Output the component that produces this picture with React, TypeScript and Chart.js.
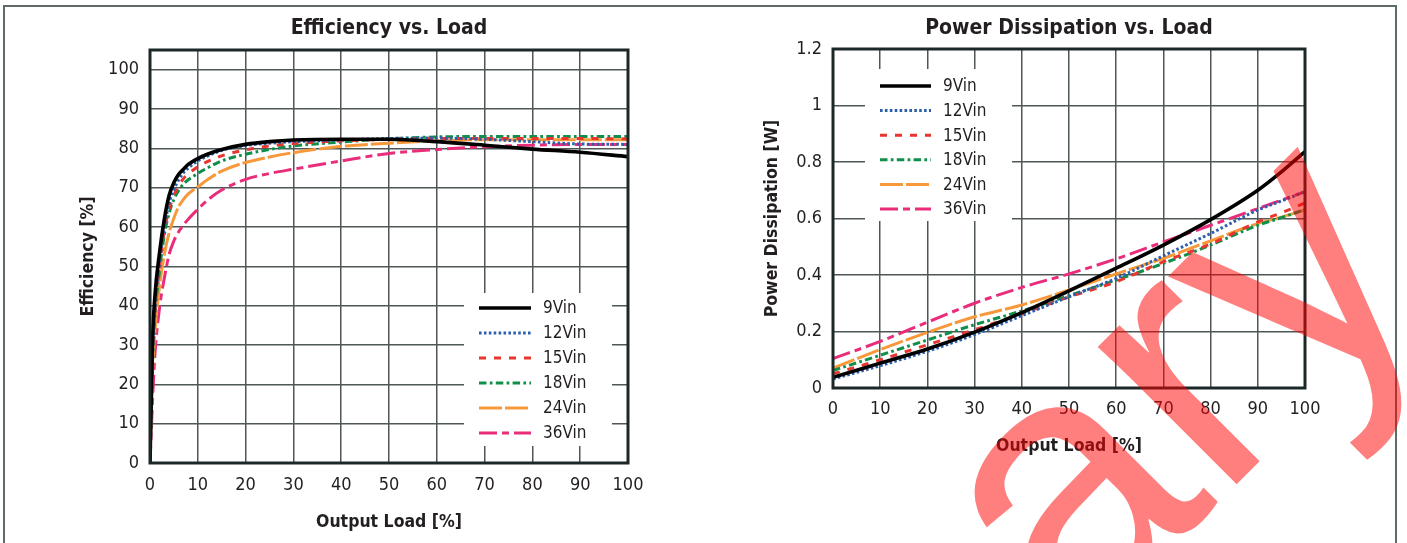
import React, { useEffect, useRef } from "react";
import { Chart, registerables } from "chart.js";

Chart.register(...registerables);

// ---------- data ----------
const seriesLabels = ["9Vin", "12Vin", "15Vin", "18Vin", "24Vin", "36Vin"];

const effLoad = [0, 0.5, 1, 2, 3, 4, 5, 6, 7, 8, 10, 12, 15, 20, 25, 30, 40, 50, 60, 70, 80, 90, 100];
const eff9 = [0, 30, 42, 53.5, 62, 68, 71.3, 73.4, 74.7, 75.9, 77.4, 78.5, 79.7, 81.0, 81.7, 82.1, 82.3, 82.3, 81.7, 80.8, 79.8, 79.0, 77.9];
const eff12 = [0, 27, 39, 51, 60, 66, 69.5, 72, 73.8, 75, 76.8, 78, 79.5, 80.7, 81.3, 81.7, 82.1, 82.5, 82.6, 82.3, 81.7, 81.1, 81.0];
const eff15 = [0, 26, 38, 50, 59, 64.5, 68, 70.5, 72.3, 73.5, 75.3, 76.6, 78.1, 79.6, 80.6, 81.2, 81.9, 82.3, 82.5, 82.5, 82.5, 82.5, 82.4];
const eff18 = [0, 25, 37, 49, 58, 63.5, 67, 69.3, 70.9, 72, 73.6, 75, 76.8, 78.5, 79.7, 80.6, 81.6, 82.4, 82.9, 83.0, 83.0, 83.0, 83.0];
const eff24 = [0, 22, 33, 45, 53, 58.5, 62.3, 65.2, 67, 68.4, 70.2, 72, 74.2, 76.4, 77.8, 78.9, 80.5, 81.3, 81.9, 82.2, 82.2, 82.2, 82.2];
const eff36 = [0, 15, 27, 39.5, 47, 53, 56.5, 58.8, 60.5, 62, 64.5, 66.8, 69.4, 72.1, 73.6, 74.7, 76.8, 78.7, 79.7, 80.4, 80.8, 81.0, 81.0];

const pdLoad = [0, 10, 20, 30, 40, 50, 60, 70, 80, 90, 95, 100];
const pd9 = [0.038, 0.088, 0.138, 0.198, 0.267, 0.344, 0.424, 0.506, 0.596, 0.700, 0.765, 0.837];
const pd12 = [0.032, 0.079, 0.130, 0.189, 0.256, 0.323, 0.388, 0.468, 0.547, 0.630, 0.662, 0.695];
const pd15 = [0.050, 0.100, 0.153, 0.206, 0.263, 0.322, 0.376, 0.447, 0.510, 0.588, 0.620, 0.655];
const pd18 = [0.062, 0.116, 0.170, 0.224, 0.273, 0.327, 0.382, 0.441, 0.506, 0.576, 0.603, 0.632];
const pd24 = [0.070, 0.136, 0.197, 0.252, 0.294, 0.347, 0.404, 0.459, 0.521, 0.582, 0.605, 0.630];
const pd36 = [0.104, 0.165, 0.233, 0.300, 0.356, 0.404, 0.457, 0.517, 0.576, 0.635, 0.665, 0.695];

const effTickValues = [0, 10, 20, 30, 40, 50, 60, 70, 80, 90, 100];

// ---------- styles ----------
const colors = ["#000000", "#2c5fab", "#e8362f", "#0f8f49", "#f7993b", "#e92d7b"];
const dashes: number[][] = [[], [2.6, 2.3], [7, 8], [7.5, 3.3, 2.7, 3.3], [23, 3], [18, 5, 7, 5]];
const widths = [3.6, 3, 3, 3, 3, 3];

const FONT = "'Liberation Sans Narrow', 'DejaVu Sans Condensed', 'Liberation Sans', sans-serif";
const TEXT = "#231f20";
const GRID = "#4e5656";
const FRAME = "#1c2727";

const insideLegend = {
  id: "insideLegend",
  beforeDatasetsDraw(chart: any, _args: any, opts: any) {
    if (!opts || !opts.box) return;
    const { ctx, chartArea } = chart;
    const L = chartArea.left;
    const T = chartArea.top;
    ctx.save();
    ctx.fillStyle = "#ffffff";
    ctx.fillRect(L + opts.box[0], T + opts.box[1], opts.box[2], opts.box[3]);
    chart.data.datasets.forEach((ds: any, i: number) => {
      const y = T + opts.rowY0 + i * opts.rowStep;
      ctx.beginPath();
      ctx.strokeStyle = ds.borderColor;
      ctx.lineWidth = ds.borderWidth;
      ctx.setLineDash(ds.borderDash || []);
      ctx.lineCap = "butt";
      ctx.moveTo(L + opts.sampleX0, y);
      ctx.lineTo(L + opts.sampleX1, y);
      ctx.stroke();
      ctx.setLineDash([]);
      ctx.fillStyle = TEXT;
      ctx.font = `17px ${FONT}`;
      ctx.textBaseline = "middle";
      ctx.textAlign = "left";
      ctx.fillText(ds.label, L + opts.textX, y + 1);
    });
    ctx.restore();
  },
};

const plotFrame = {
  id: "plotFrame",
  afterDatasetsDraw(chart: any) {
    const { ctx, chartArea } = chart;
    ctx.save();
    ctx.strokeStyle = FRAME;
    ctx.lineWidth = 3;
    ctx.setLineDash([]);
    ctx.strokeRect(chartArea.left, chartArea.top, chartArea.right - chartArea.left, chartArea.bottom - chartArea.top);
    ctx.restore();
  },
};

function makeDatasets(xs: number[], series: number[][]) {
  return series.map((vals, i) => ({
    label: seriesLabels[i],
    data: vals.map((v, j) => ({ x: xs[j], y: v })),
    borderColor: colors[i],
    borderWidth: widths[i],
    borderDash: dashes[i],
    borderCapStyle: "butt",
    pointRadius: 0,
    fill: false,
    cubicInterpolationMode: "monotone",
  }));
}

function tickFont() {
  return { family: FONT, size: 18 };
}
function titleFont() {
  return { family: FONT, size: 17.5, weight: "bold" as const };
}
function headFont() {
  return { family: FONT, size: 21, weight: "bold" as const };
}

function EfficiencyChart() {
  const ref = useRef<HTMLCanvasElement | null>(null);
  useEffect(() => {
    if (!ref.current) return;
    const chart = new Chart(ref.current, {
      type: "line",
      data: { datasets: makeDatasets(effLoad, [eff9, eff12, eff15, eff18, eff24, eff36]) as any },
      plugins: [insideLegend, plotFrame],
      options: {
        responsive: false,
        animation: false,
        layout: { padding: { left: 0, right: 72, top: 0, bottom: 0 } },
        plugins: {
          legend: { display: false },
          tooltip: { enabled: false },
          title: {
            display: true,
            text: "Efficiency vs. Load",
            fullSize: false,
            color: TEXT,
            font: headFont(),
            padding: { top: 16, bottom: 8.8 },
          },
          insideLegend: {
            box: [314, 243, 148, 153],
            sampleX0: 329,
            sampleX1: 381,
            textX: 393,
            rowY0: 258,
            rowStep: 25,
          },
        } as any,
        scales: {
          x: {
            type: "linear",
            min: 0,
            max: 100,
            ticks: { stepSize: 10, padding: 12, color: TEXT, font: tickFont() },
            grid: { color: GRID, lineWidth: 1.5, drawTicks: false },
            border: { display: false },
            title: { display: true, text: "Output Load [%]", color: TEXT, font: titleFont(), padding: { top: 0, bottom: 10 } },
            afterFit: (s: any) => {
              s.height = 80;
            },
          },
          y: {
            type: "linear",
            min: 0,
            max: 105,
            ticks: { stepSize: 10, padding: 11, color: TEXT, font: tickFont() },
            afterBuildTicks: (s: any) => {
              s.ticks = effTickValues.map((v) => ({ value: v }));
            },
            grid: { color: GRID, lineWidth: 1.5, drawTicks: false },
            border: { display: false },
            title: { display: true, text: "Efficiency [%]", color: TEXT, font: titleFont(), padding: { top: 78, bottom: 0 } },
            afterFit: (s: any) => {
              s.width = 150;
            },
          },
        } as any,
      },
    });
    return () => chart.destroy();
  }, []);
  return (
    <canvas
      ref={ref}
      width={700}
      height={543}
      style={{ position: "absolute", left: 0, top: 0, width: 700, height: 543 }}
    />
  );
}

function DissipationChart() {
  const ref = useRef<HTMLCanvasElement | null>(null);
  useEffect(() => {
    if (!ref.current) return;
    const chart = new Chart(ref.current, {
      type: "line",
      data: { datasets: makeDatasets(pdLoad, [pd9, pd12, pd15, pd18, pd24, pd36]) as any },
      plugins: [insideLegend, plotFrame],
      options: {
        responsive: false,
        animation: false,
        layout: { padding: { left: 0, right: 102, top: 0, bottom: 0 } },
        plugins: {
          legend: { display: false },
          tooltip: { enabled: false },
          title: {
            display: true,
            text: "Power Dissipation vs. Load",
            fullSize: false,
            color: TEXT,
            font: headFont(),
            padding: { top: 16, bottom: 7.8 },
          },
          insideLegend: {
            box: [32, 20, 147, 152],
            sampleX0: 47,
            sampleX1: 98,
            textX: 110,
            rowY0: 37,
            rowStep: 24.6,
          },
        } as any,
        scales: {
          x: {
            type: "linear",
            min: 0,
            max: 100,
            ticks: { stepSize: 10, padding: 11, color: TEXT, font: tickFont() },
            grid: { color: GRID, lineWidth: 1.5, drawTicks: false },
            border: { display: false },
            title: { display: true, text: "Output Load [%]", color: TEXT, font: titleFont(), padding: { top: 0, bottom: 86 } },
            afterFit: (s: any) => {
              s.height = 155;
            },
          },
          y: {
            type: "linear",
            min: 0,
            max: 1.2,
            ticks: {
              stepSize: 0.2,
              padding: 11,
              color: TEXT,
              font: tickFont(),
              callback: (v: any) => String(Math.round(Number(v) * 10) / 10),
            },
            grid: { color: GRID, lineWidth: 1.5, drawTicks: false },
            border: { display: false },
            title: { display: true, text: "Power Dissipation [W]", color: TEXT, font: titleFont(), padding: { top: 62, bottom: 0 } },
            afterFit: (s: any) => {
              s.width = 133;
            },
          },
        } as any,
      },
    });
    return () => chart.destroy();
  }, []);
  return (
    <canvas
      ref={ref}
      width={707}
      height={543}
      style={{ position: "absolute", left: 700, top: 0, width: 707, height: 543 }}
    />
  );
}

export default function App() {
  return (
    <div
      style={{
        position: "absolute",
        left: 0,
        top: 0,
        width: 1407,
        height: 543,
        overflow: "hidden",
        background: "#ffffff",
      }}
    >
      <div
        style={{
          position: "absolute",
          left: 3,
          top: 5,
          width: 1394,
          height: 600,
          border: "2px solid #5f6a6a",
          boxSizing: "border-box",
        }}
      />
      <EfficiencyChart />
      <DissipationChart />
      <svg
        width={1407}
        height={543}
        style={{ position: "absolute", left: 0, top: 0, pointerEvents: "none" }}
      >
        <text
          x={1073}
          y={648}
          transform="rotate(-45 1073 648)"
          fontFamily="'Liberation Sans', Arial, sans-serif"
          fontSize={370}
          fill="rgba(255,0,0,0.5)"
        >
          ary
        </text>
      </svg>
    </div>
  );
}
